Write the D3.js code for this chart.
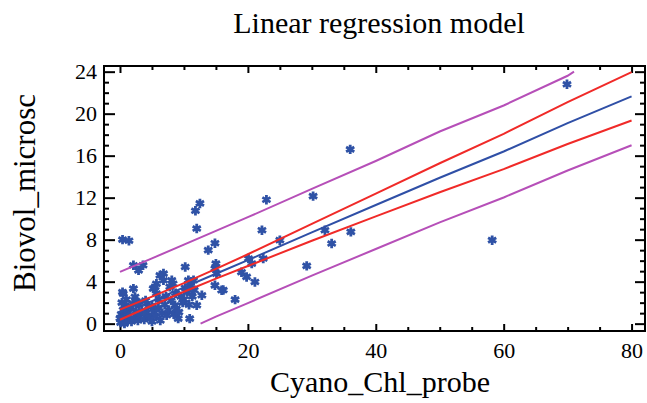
<!DOCTYPE html>
<html>
<head>
<meta charset="utf-8">
<script src="https://cdn.jsdelivr.net/npm/d3@7"></script>
<style>
  body { margin: 0; background: #fff; }
  text { font-family: "Liberation Serif", "Times New Roman", serif; fill: #000; }
</style>
</head>
<body>
<div id="chart"></div>
<script>
// observed data: Cyano_Chl_probe (x) vs Biovol_microsc (y)
var cyanoChl = [69.9, 58.2, 36.0, 30.2, 32.05, 36.1, 33.1, 29.2, 25.0, 22.9, 22.2, 14.85, 13.8, 15.0, 20.1, 20.6, 22.4,
  19.0, 19.8, 21.1, 16.15, 14.85, 15.1, 14.85, 15.9, 18.0, 12.5, 11.8, 12.0, 10.2, 9.1, 10.9, 12.0, 12.8, 8.1, 7.8,
  6.25, 6.8, 6.8, 5.7, 5.2, 5.5, 5.7, 0.5, 2.1, 2.1, 2.9, 3.6, 2.35, 0.4, 1.4, 10.7, 11.5, 8.6, 8.3,
  10.0, 10.5, 11.0, 11.3, 10.2, 11.6, 9.8, 10.8,
  0.1, 0.3, 0.6, 0.9, 0.2, 0.5, 0.8, 0.3, 1.0, 0.7, 1.2, 1.5, 1.8, 2.2, 2.5, 1.6, 2.0, 2.8, 3.1, 3.4, 3.8, 4.1,
  4.4, 3.0, 4.7, 5.0, 5.3, 5.6, 6.0, 6.3, 6.6, 7.0, 7.3, 7.6, 8.0, 8.4, 8.8, 6.1, 7.2, 4.0, 1.3, 2.6, 5.0, 0.0,
  0.4, 9.2, 9.5, 8.7];
var biovol = [22.8, 7.95, 16.6, 12.15, 8.9, 8.74, 7.63, 5.5, 7.95, 11.8, 8.9, 7.66, 7.0, 5.72, 6.2, 5.72, 6.2,
  4.9, 4.45, 3.97, 3.2, 5.25, 4.77, 3.65, 3.18, 2.29, 11.45, 10.75, 9.06, 5.4, 0.48, 0.48, 1.75, 2.7, 4.13, 3.5,
  4.6, 4.77, 4.13, 3.8, 3.34, 3.5, 2.86, 2.86, 3.34, 5.56, 5.08, 5.56, 2.54, 8.0, 7.9, 4.13, 4.13, 1.75, 3.8,
  2.3, 3.0, 3.6, 2.6, 3.4, 3.2, 2.0, 1.8,
  0.1, 0.4, 0.2, 0.6, 0.9, 1.3, 1.7, 2.0, 2.3, 0.0, 0.3, 0.8, 0.2, 0.5, 1.1, 1.5, 1.9, 0.3, 0.7, 1.2, 0.4, 1.0,
  1.6, 1.8, 0.6, 0.2, 1.1, 0.7, 1.5, 0.3, 1.0, 1.8, 0.8, 1.3, 2.2, 0.9, 1.4, 2.3, 2.6, 2.2, 1.1, 2.1, 1.7, 0.5,
  3.0, 1.1, 2.6, 2.9];

// fitted line and bands
var lineX = [0, 5, 10, 15, 20, 30, 40, 50, 60, 70, 80];
var fitY = [0.85, 2.15, 3.45, 4.75, 6.05, 8.7, 11.3, 13.9, 16.4, 19.1, 21.65];
var confUpper = [1.33, 2.57, 3.86, 5.21, 6.61, 9.5, 12.38, 15.28, 18.08, 21.09, 23.95];
var confLower = [0.37, 1.73, 3.04, 4.29, 5.49, 7.9, 10.22, 12.52, 14.72, 17.11, 19.35];
var predUpperX = [0, 5, 10, 15, 20, 30, 40, 50, 60, 70, 71];
var predUpperY = [4.93, 6.22, 7.52, 8.83, 10.14, 12.83, 15.49, 18.3, 20.78, 23.61, 24.0];
var predLowerX = [12.6, 15, 20, 30, 40, 50, 60, 70, 80];
var predLowerY = [0.0, 0.67, 1.96, 4.57, 7.11, 9.64, 12.02, 14.59, 16.99];

var xMajor = [0, 20, 40, 60, 80];
var yMajor = [0, 4, 8, 12, 16, 20, 24];

var W = 647, H = 403;
var margin = { top: 66, right: 2, bottom: 72, left: 104 },
  width = W - margin.left - margin.right,
  height = H - margin.top - margin.bottom;

var svg = d3.select("#chart")
  .append("svg")
  .attr("width", W)
  .attr("height", H);

var g = svg.append("g")
  .attr("transform", "translate(" + margin.left + "," + margin.top + ")");

var x = d3.scaleLinear().domain([-2.5, 82.1]).range([0, width]);
var y = d3.scaleLinear().domain([-0.7, 24.54]).range([height, 0]);

var xMinor = d3.range(0, 81, 5).filter(function (v) { return xMajor.indexOf(v) < 0; });
var yMinor = d3.range(0, 25, 1).filter(function (v) { return yMajor.indexOf(v) < 0; });

function styleAxis(sel) {
  sel.select(".domain").remove();
  sel.selectAll("line").attr("stroke", "#000").attr("stroke-width", 2);
}

// bottom
g.append("g").attr("transform", "translate(0," + height + ")")
  .call(d3.axisBottom(x).tickValues(xMajor).tickSize(-7).tickPadding(11).tickFormat(d3.format("d")))
  .call(styleAxis)
  .selectAll("text").style("font-size", "22px").style("font-family", "Liberation Serif");
g.append("g").attr("transform", "translate(0," + height + ")")
  .call(d3.axisBottom(x).tickValues(xMinor).tickSize(-4).tickFormat(""))
  .call(styleAxis);
// top
g.append("g")
  .call(d3.axisTop(x).tickValues(xMajor).tickSize(-7).tickFormat(""))
  .call(styleAxis);
g.append("g")
  .call(d3.axisTop(x).tickValues(xMinor).tickSize(-4).tickFormat(""))
  .call(styleAxis);
// left
g.append("g")
  .call(d3.axisLeft(y).tickValues(yMajor).tickSize(-11).tickPadding(7).tickFormat(d3.format("d")))
  .call(styleAxis)
  .selectAll("text").style("font-size", "22px").style("font-family", "Liberation Serif");
g.append("g")
  .call(d3.axisLeft(y).tickValues(yMinor).tickSize(-5).tickFormat(""))
  .call(styleAxis);
// right
g.append("g").attr("transform", "translate(" + width + ",0)")
  .call(d3.axisRight(y).tickValues(yMajor).tickSize(-10).tickFormat(""))
  .call(styleAxis);
g.append("g").attr("transform", "translate(" + width + ",0)")
  .call(d3.axisRight(y).tickValues(yMinor).tickSize(-5).tickFormat(""))
  .call(styleAxis);

// frame
g.append("rect")
  .attr("width", width)
  .attr("height", height)
  .attr("fill", "none")
  .attr("stroke", "#000")
  .attr("stroke-width", 2);

var clip = svg.append("clipPath").attr("id", "plotclip")
  .append("rect").attr("width", width).attr("height", height);

var plot = g.append("g").attr("clip-path", "url(#plotclip)");

// points
var pts = cyanoChl.map(function (v, i) { return [v, biovol[i]]; });
plot.selectAll(".pt")
  .data(pts)
  .enter()
  .append("path")
  .attr("class", "pt")
  .attr("transform", function (d) { return "translate(" + x(d[0]) + "," + y(d[1]) + ")"; })
  .attr("d", d3.symbol().type(d3.symbolAsterisk).size(62))
  .attr("fill", "none")
  .attr("stroke", "#2f52a6")
  .attr("stroke-width", 2.8);

function drawLine(xs, ys, color) {
  var line = d3.line()
    .x(function (d) { return x(d[0]); })
    .y(function (d) { return y(d[1]); });
  plot.append("path")
    .datum(xs.map(function (v, i) { return [v, ys[i]]; }))
    .attr("d", line)
    .attr("fill", "none")
    .attr("stroke", color)
    .attr("stroke-width", 2);
}

drawLine(predUpperX, predUpperY, "#b64fb8");
drawLine(predLowerX, predLowerY, "#b64fb8");
drawLine(lineX, confUpper, "#f02a28");
drawLine(lineX, confLower, "#f02a28");
drawLine(lineX, fitY, "#2f4fa6");

// titles
svg.append("text")
  .attr("x", 379)
  .attr("y", 33)
  .attr("text-anchor", "middle")
  .style("font-size", "30px")
  .text("Linear regression model");

svg.append("text")
  .attr("x", 380)
  .attr("y", 392)
  .attr("text-anchor", "middle")
  .style("font-size", "30px")
  .text("Cyano_Chl_probe");

svg.append("text")
  .attr("transform", "translate(35,193) rotate(-90)")
  .attr("text-anchor", "middle")
  .style("font-size", "31px")
  .text("Biovol_microsc");
</script>
</body>
</html>
